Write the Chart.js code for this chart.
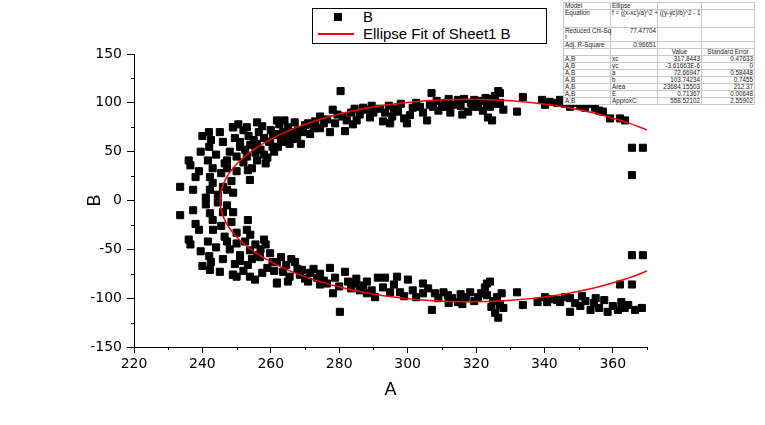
<!DOCTYPE html>
<html><head><meta charset="utf-8">
<script src="https://cdn.jsdelivr.net/npm/chart.js@4.4.1/dist/chart.umd.min.js"></script>
<style>
body{margin:0;background:#fff;}
#wrap{position:relative;width:765px;height:425px;overflow:hidden;background:#fff;}
#legend{position:absolute;left:312px;top:8px;width:233px;height:34px;border:1px solid #000;background:#fff;font-family:'Liberation Sans',Arial,sans-serif;font-size:15px;color:#000;}
#legend .mk{position:absolute;left:21px;top:4px;width:8px;height:8px;background:#000;}
#legend .ln{position:absolute;left:5px;top:24px;width:36px;height:1.5px;background:#ff0000;}
#legend .t1{position:absolute;left:50px;top:-1px;line-height:18px;}
#legend .t2{position:absolute;left:50px;top:16px;line-height:18px;}
#stats{position:absolute;left:563px;top:2px;width:191px;border-collapse:collapse;table-layout:fixed;background:#fff;font-family:'Liberation Sans',Arial,sans-serif;font-size:6.3px;color:#222;border:1px solid #777;}
#stats td{border:1px solid #c8c8c8;padding:0 1px;vertical-align:top;white-space:nowrap;overflow:visible;line-height:6px;height:5px;}
#stats td.r{text-align:right;}
#stats td.c{text-align:center;}
</style></head>
<body><div id="wrap">
<canvas id="c" width="765" height="425"></canvas>
<div id="legend"><div class="mk"></div><div class="t1">B</div><div class="ln"></div><div class="t2">Ellipse Fit of Sheet1 B</div></div>
<table id="stats">
<colgroup><col style="width:47px"><col style="width:47px"><col style="width:44px"><col style="width:53px"></colgroup>
<tr><td>Model</td><td>Ellipse</td><td></td><td></td></tr>
<tr><td style="height:17px">Equation</td><td>f = ((x-xc)/a)^2 + ((y-yc)/b)^2 - 1</td><td></td><td></td></tr>
<tr><td style="height:13px">Reduced Chi-Sq<br>r</td><td class="r">77.47704</td><td></td><td></td></tr>
<tr><td>Adj. R-Square</td><td class="r">0.96651</td><td></td><td></td></tr>
<tr><td></td><td></td><td class="c">Value</td><td class="c">Standard Error</td></tr>
<tr><td>A,B</td><td>xc</td><td class="r">317.8443</td><td class="r">0.47633</td></tr>
<tr><td>A,B</td><td>yc</td><td class="r">-3.61663E-6</td><td class="r">0</td></tr>
<tr><td>A,B</td><td>a</td><td class="r">72.66947</td><td class="r">0.58448</td></tr>
<tr><td>A,B</td><td>b</td><td class="r">103.74234</td><td class="r">0.7455</td></tr>
<tr><td>A,B</td><td>Area</td><td class="r">23684.15503</td><td class="r">212.37</td></tr>
<tr><td>A,B</td><td>E</td><td class="r">0.71367</td><td class="r">0.00648</td></tr>
<tr><td>A,B</td><td>ApproxC</td><td class="r">558.52102</td><td class="r">2.55902</td></tr>
</table>
</div>
<script>
// Axis ticks
const xMajor = [220, 240, 260, 280, 300, 320, 340, 360];
const xMinor = [230, 250, 270, 290, 310, 330, 350, 370];
const yMajor = [-150, -100, -50, 0, 50, 100, 150];
const yMinor = [-125, -75, -25, 25, 75, 125];

// Scatter data "B" (A, B), grouped by region
const leftCluster = [[233.5,14],[233.5,-15],[237.3,11],[237.3,-10],[236,41],[236.5,36],[236,-40],[236.5,-45],[238,24],[238,-24],[239,30],[239,-30],[241.6,41],[241.6,-42],[241.9,70],[242.2,-71],[242.2,24],[242.2,11],[242.2,-13],[243.1,-30],[242,55],[242,-57],[242.5,62],[242.5,-63],[241,3],[241,-4],[243,33],[243,18],[243,-20],[244,47],[244,-48],[244.5,6],[244.5,-2],[245.1,70],[245.1,-73],[245.5,28],[245.5,-26],[246,60],[246,-60],[246.5,38],[246.5,-37],[247.2,41],[247.2,33],[247.2,11],[247.2,-5],[247.2,-42],[248,50],[248,-50],[248.9,75],[248.9,-76],[248.5,20],[248.5,-22],[249.5,64],[249.5,-65],[250,45],[250,-44],[250,30],[250,-33],[251,55],[251,-56],[246,14],[246,-12],[253.3,31],[253.9,21],[253.3,-20],[253,-30],[249,8],[249,-12],[240,66],[240,-67],[239.5,50],[239.5,-52]];
const upperBand = [[250.5,78],[252,72],[253.5,66],[255,62],[256,58],[257,52],[258,47],[259,44],[256.5,70],[258,64],[259.5,60],[260.5,55],[261,50],[257.5,76],[260,72],[262,68],[254,57],[255.5,49],[253,45],[252,39],[254.5,33],[256,41],[251,60],[252.5,52],[258.5,38],[261.8,82],[256,80],[253,75],[249,75],
[263,62],[263.6,70],[263.6,60],[264.5,66],[265,75],[266,70],[266.5,63],[267.7,64],[268,72],[269.4,70],[270,77],[270.9,79],[271.5,68],[272.5,74],[273,81],[274.4,74],[274.4,86],[275.5,79],[262.1,55],[260.6,67],[259.8,60],[265.5,58],[268.8,58],[262.5,78],[264,82],[267,80],
[277.3,70],[278.1,93],[278.8,79],[276.5,83],[280.4,112],[281,86],[281.7,71],[282.2,82],[283.5,90],[284,78],[285.1,82],[286,88],[287,95],[288,93],[289,85],[290,90],[291.9,94],[292.8,81],[293.4,90],[294.5,97],[294.9,79],[295.5,86],[297.2,91],[298,99],[299,84],[299.8,79],[279.5,88],[284.5,94],[289.5,97],[296,94],
[300.7,87.5],[301.5,95],[302.5,100],[303.6,96],[304.5,90],[305.7,82],[306.5,98],[307,110],[307.4,96],[308.5,102],[309,92],[310,96],[311,100],[311.8,96],[312.5,90],[313.5,98],[314.7,103],[315.5,97],[316,88],[317.7,91],[318.5,100],[319,96],[320.6,96],[321.5,102],[322,92],[323.2,98],[323.5,85],[324.1,96],[324.7,82],[325,104],[326,99],[327,110],[327,100],[328,93],[326.5,112],[325.5,107],[322.8,105],[319.5,103],[316.5,104],[312,104]];
const lowerBand = [[250,-78],[252,-72],[253.3,-66],[254.5,-60],[256,-56],[257,-50],[258.5,-45],[253.9,-51],[256.8,-58],[259.8,-54],[255.4,-81],[253.9,-78],[257.5,-74],[259,-69],[260.5,-63],[261,-72],[252.5,-42],[254,-35],[255.5,-45],[251,-62],[258,-40],[261.8,-84],[249,-76],
[261.8,-63],[263.6,-73],[264.5,-66],[265.5,-78],[267.1,-63],[267.8,-70],[269.1,-71],[270,-80],[270.9,-83],[271.5,-74],[272.5,-70],[273.5,-79],[274.4,-75],[274.4,-86],[275.5,-82],[276.4,-85],[261.8,-85],[263,-58],[266,-60],[268.5,-76],[265,-83],
[277.3,-69],[278.2,-95],[278.8,-79],[280.2,-114],[281.7,-73],[282.6,-83],[283.5,-90],[284.6,-85],[286,-92],[287,-87],[288.1,-83],[288.1,-95],[289.5,-92],[291.3,-79],[292.8,-89],[293.4,-79],[294.9,-94],[296,-86],[296.9,-78],[297.8,-94],[299,-98],[280,-88],[285,-80],[290.5,-99],
[300.1,-81],[301.5,-92],[302.5,-99],[304.5,-85],[304.5,-95],[306,-90],[307.1,-112],[308,-95],[309,-100],[310.5,-94],[311.8,-97],[313,-100],[314.7,-104],[315.5,-96],[317,-99],[318.3,-94],[319.5,-103],[320.6,-99],[321.5,-95],[322.6,-89],[323.2,-85],[323.2,-97],[324.1,-83],[325,-103],[325.6,-115],[326.1,-99],[327,-107],[327.5,-95],[328,-110],[326.5,-120],[324.5,-109],[316,-106],[312,-105]];
const rightSide = [[332,91],[333.7,106],[339.3,103],[340.2,98],[343.7,100],[344.6,103],[346,99],[348.9,100],[350.5,97],[351.9,95],[353.5,99],[354.8,95],[356,92],[357.1,91],[359.2,84],[362.1,84],[363.6,82],[365.6,54],[368.8,54],[365.6,26],[341.5,101],[347.5,96],
[332,-94],[333.7,-107],[338,-104],[340.2,-99],[340.8,-104],[342,-101],[343.7,-102],[344.6,-104],[346,-99],[347.5,-100],[347.5,-114],[349,-105],[350.5,-108],[352,-103],[353.5,-112],[354.5,-105],[356,-110],[357.5,-102],[358.5,-114],[360,-108],[361.5,-112],[362.5,-104],[363.5,-110],[364.5,-107],[366.5,-112],[368.5,-110],[365.6,-86],[362.1,-86],[365.6,-56],[368.8,-56],[355,-100],[351,-98]];

// Ellipse fit curve points (from fitted xc, yc, a, b in the table)
const fitX = [370,364.55,354.18,342.69,330.46,317.84,305.22,292.99,281.51,271.13,262.17,254.91,249.55,246.27,245.17,246.27,249.55,254.91,262.17,271.13,281.51,292.99,305.22,317.84,330.46,342.69,354.18,364.55,370];
const fitY = [-72.23,-79.47,-89.84,-97.48,-102.16,-103.74,-102.16,-97.48,-89.84,-79.47,-66.68,-51.87,-35.48,-18.01,0,18.01,35.48,51.87,66.68,79.47,89.84,97.48,102.16,103.74,102.16,97.48,89.84,79.47,72.23];

const toPts = arr => arr.map(p => ({x: p[0], y: p[1]}));
const scatterData = [].concat(toPts(leftCluster), toPts(upperBand), toPts(lowerBand), toPts(rightSide));
const fitData = fitX.map((x, i) => ({x: x, y: fitY[i]}));

const minorTicks = {
  id: 'minorTicks',
  afterDraw(chart) {
    const {ctx, scales: {x, y}} = chart;
    ctx.save();
    ctx.strokeStyle = '#000';
    ctx.lineWidth = 1;
    ctx.beginPath();
    xMinor.forEach(v => { const p = Math.round(x.getPixelForValue(v)) + 0.5; ctx.moveTo(p, x.top); ctx.lineTo(p, x.top + 3); });
    yMinor.forEach(v => { const p = Math.round(y.getPixelForValue(v)) + 0.5; ctx.moveTo(y.right, p); ctx.lineTo(y.right - 3, p); });
    ctx.stroke();
    ctx.restore();
  }
};

new Chart(document.getElementById('c'), {
  type: 'scatter',
  data: {
    datasets: [
      {label: 'Ellipse Fit of Sheet1 B', data: fitData, showLine: true, borderColor: '#ff0000', borderWidth: 1.5, pointRadius: 0, tension: 0.4, fill: false, order: 0},
      {label: 'B', data: scatterData, pointStyle: 'rect', pointRadius: 5, backgroundColor: '#000', borderColor: '#000', borderWidth: 1, order: 1}
    ]
  },
  options: {
    responsive: false,
    animation: false,
    devicePixelRatio: 1,
    layout: {padding: {left: 0, top: 54, right: 118, bottom: 0}},
    plugins: {legend: {display: false}, tooltip: {enabled: false}},
    scales: {
      x: {
        type: 'linear', position: 'bottom', min: 220, max: 370,
        afterBuildTicks: s => { s.ticks = xMajor.map(v => ({value: v})); },
        afterFit: s => { s.height = 78; },
        ticks: {color: '#000', padding: 3, font: {family: 'DejaVu Sans', size: 14}, maxRotation: 0},
        grid: {drawOnChartArea: false, tickLength: 6, color: '#000'},
        border: {color: '#000', width: 1},
        title: {display: true, text: 'A', color: '#000', font: {family: 'Liberation Sans', size: 18}, padding: {top: 0, bottom: 24}}
      },
      y: {
        type: 'linear', min: -150, max: 150,
        afterBuildTicks: s => { s.ticks = yMajor.map(v => ({value: v})); },
        afterFit: s => { s.width = 134; },
        ticks: {color: '#000', padding: 5, font: {family: 'DejaVu Sans', size: 14}},
        grid: {drawOnChartArea: false, tickLength: 7, color: '#000'},
        border: {color: '#000', width: 1},
        title: {display: true, text: 'B', color: '#000', font: {family: 'Liberation Sans', size: 18}, padding: {top: 84, bottom: 0}}
      }
    }
  },
  plugins: [minorTicks]
});
</script>
</body></html>
